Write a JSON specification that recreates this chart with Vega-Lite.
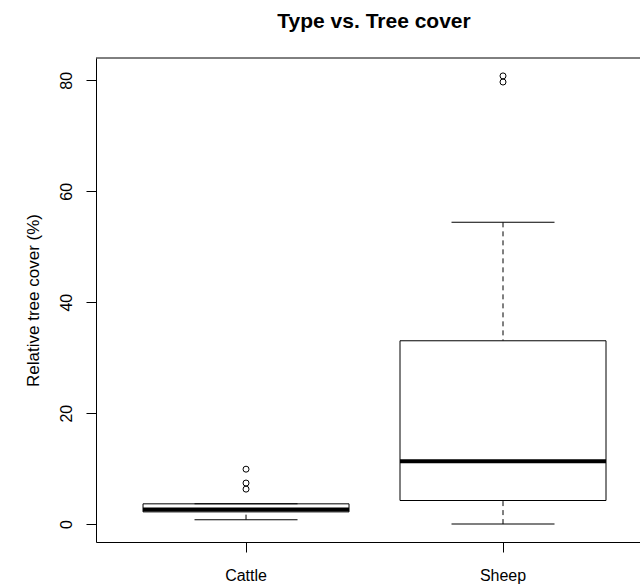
{
  "$schema": "https://vega.github.io/schema/vega-lite/v6.json",
  "autosize": {"type": "none"},
  "padding": {"left": 96, "top": 58, "right": 0, "bottom": 42},
  "width": 544,
  "height": 484,
  "background": "white",
  "view": {"stroke": null},
  "config": {
    "font": "Liberation Sans",
    "axis": {"grid": false, "domainColor": "black", "tickColor": "black", "labelColor": "black", "titleColor": "black", "labelFont": "Liberation Sans", "titleFont": "Liberation Sans", "labelFontSize": 16, "titleFontWeight": "normal", "domainWidth": 1, "tickWidth": 1}
  },
  "title": {"text": "Type vs. Tree cover", "font": "Liberation Sans", "fontSize": 21, "fontWeight": "bold", "color": "black", "anchor": "middle", "dx": 6, "offset": 26},
  "datasets": {
    "stats": [
      {"type": "Cattle", "lower": 0.8, "q1": 2.2, "median": 2.65, "q3": 3.65, "upper": 3.65},
      {"type": "Sheep", "lower": 0, "q1": 4.25, "median": 11.35, "q3": 33.05, "upper": 54.4}
    ],
    "outliers": [
      {"type": "Cattle", "value": 9.9},
      {"type": "Cattle", "value": 7.4},
      {"type": "Cattle", "value": 6.3},
      {"type": "Sheep", "value": 80.8},
      {"type": "Sheep", "value": 79.7}
    ],
    "frame": [
      {"top": 84.03}
    ]
  },
  "layer": [
    {
      "data": {"name": "stats"},
      "mark": {"type": "rule", "strokeDash": [5, 4], "color": "black", "strokeWidth": 1},
      "encoding": {
        "x": {"field": "type", "type": "nominal", "scale": {"type": "band", "domain": ["Cattle", "Sheep"], "paddingInner": 0, "paddingOuter": 0.0584, "align": 0.717}, "axis": {"title": null, "labelAngle": 0, "tickSize": 10, "labelPadding": 15, "labelFontSize": 16}},
        "y": {"field": "upper", "type": "quantitative", "scale": {"domain": [-3.23, 84.03], "nice": false, "zero": false}, "axis": {"title": "Relative tree cover (%)", "titleFontSize": 17, "values": [0, 20, 40, 60, 80], "tickSize": 10, "labelAngle": 270, "labelAlign": "center", "labelBaseline": "alphabetic", "labelPadding": 15, "titlePadding": 16}},
        "y2": {"field": "q3"}
      }
    },
    {
      "data": {"name": "stats"},
      "mark": {"type": "rule", "strokeDash": [5, 4], "color": "black", "strokeWidth": 1},
      "encoding": {
        "x": {"field": "type", "type": "nominal"},
        "y": {"field": "lower", "type": "quantitative"},
        "y2": {"field": "q1"}
      }
    },
    {
      "data": {"name": "stats"},
      "mark": {"type": "bar", "size": 206, "fill": "white", "stroke": "black", "strokeWidth": 1},
      "encoding": {
        "x": {"field": "type", "type": "nominal"},
        "y": {"field": "q1", "type": "quantitative"},
        "y2": {"field": "q3"}
      }
    },
    {
      "data": {"name": "stats"},
      "mark": {"type": "tick", "size": 206, "thickness": 4, "color": "black", "opacity": 1},
      "encoding": {
        "x": {"field": "type", "type": "nominal"},
        "y": {"field": "median", "type": "quantitative"}
      }
    },
    {
      "data": {"name": "stats"},
      "mark": {"type": "tick", "size": 103, "thickness": 1, "color": "black", "opacity": 1},
      "encoding": {
        "x": {"field": "type", "type": "nominal"},
        "y": {"field": "lower", "type": "quantitative"}
      }
    },
    {
      "data": {"name": "stats"},
      "mark": {"type": "tick", "size": 103, "thickness": 1, "color": "black", "opacity": 1},
      "encoding": {
        "x": {"field": "type", "type": "nominal"},
        "y": {"field": "upper", "type": "quantitative"}
      }
    },
    {
      "data": {"name": "outliers"},
      "mark": {"type": "point", "shape": "circle", "filled": false, "stroke": "black", "strokeWidth": 1, "size": 36, "opacity": 1},
      "encoding": {
        "x": {"field": "type", "type": "nominal"},
        "y": {"field": "value", "type": "quantitative"}
      }
    },
    {
      "data": {"name": "frame"},
      "mark": {"type": "rule", "color": "black", "strokeWidth": 1},
      "encoding": {
        "y": {"field": "top", "type": "quantitative"}
      }
    }
  ]
}
